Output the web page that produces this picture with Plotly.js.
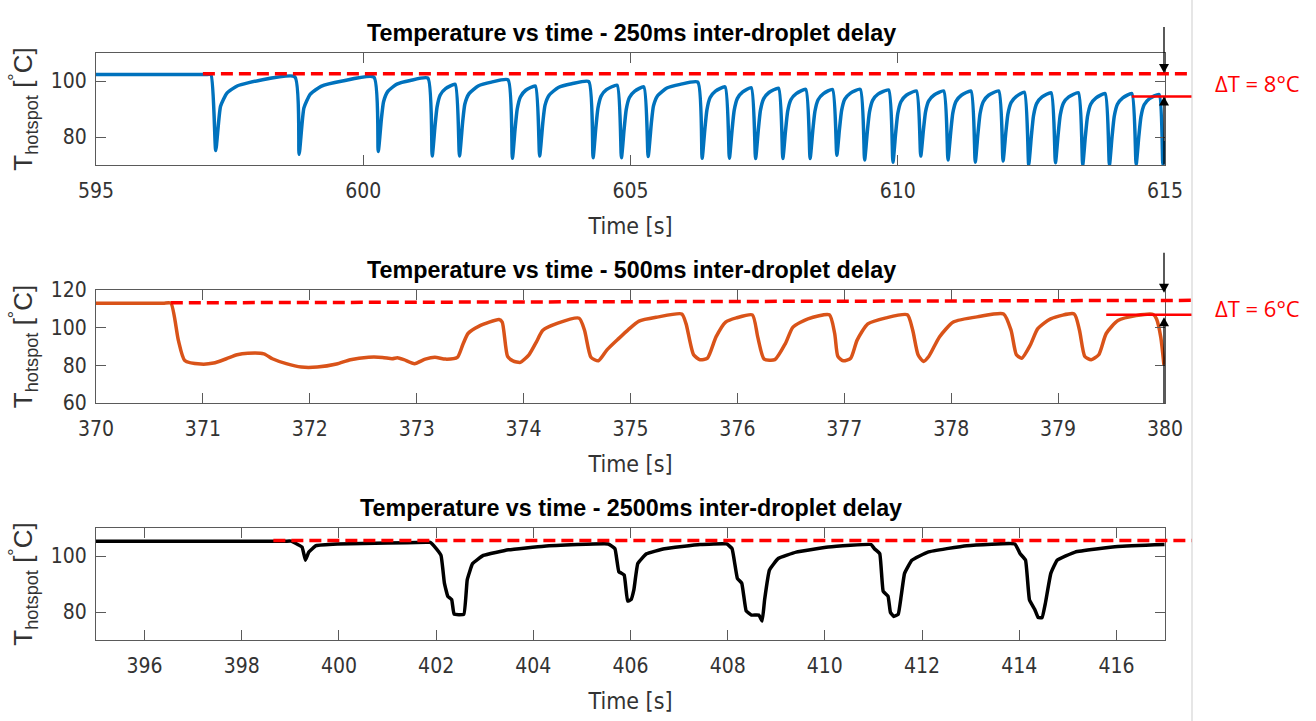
<!DOCTYPE html>
<html>
<head>
<meta charset="utf-8">
<script src="https://cdn.plot.ly/plotly-3.0.1.min.js"></script>
<style>html,body{margin:0;padding:0;background:#fff;}#chart{width:1316px;height:721px;}</style>
</head>
<body>
<div id="chart"></div>
<script>
// ---------- data ----------
const titles = ["Temperature vs time - 250ms inter-droplet delay",
                "Temperature vs time - 500ms inter-droplet delay",
                "Temperature vs time - 2500ms inter-droplet delay"];
const xLabel = "Time [s]";
const yLabel = "T<sub>hotspot</sub> [<sup>°</sup>C]";

const t250 = [595.00,596.50,597.05,597.15,597.24,597.33,597.45,597.65,598.05,598.72,598.80,598.89,599.01,599.21,599.61,600.20,
600.28,600.34,600.38,600.46,600.63,600.88,601.21,601.29,601.34,601.38,601.44,601.54,601.72,
601.80,601.86,601.90,601.98,602.15,602.40,602.71,602.79,602.84,602.88,602.94,603.04,603.22,
603.30,603.36,603.40,603.48,603.65,603.90,604.22,604.30,604.35,604.39,604.45,604.55,604.75,
604.83,604.88,604.92,604.98,605.08,605.25,605.33,605.39,605.43,605.51,605.68,605.93,606.26,
606.34,606.39,606.43,606.49,606.59,606.77,606.85,606.90,606.94,607.00,607.10,607.26,
607.34,607.39,607.43,607.49,607.59,607.77,607.85,607.90,607.94,608.00,608.10,608.28,
608.36,608.41,608.45,608.51,608.61,608.78,608.86,608.91,608.95,609.01,609.11,609.30,
609.38,609.43,609.47,609.53,609.63,609.83,609.91,609.96,610.00,610.06,610.16,610.35,
610.43,610.48,610.52,610.58,610.68,610.86,610.94,610.99,611.03,611.09,611.19,611.37,
611.45,611.50,611.54,611.60,611.70,611.89,611.97,612.02,612.06,612.12,612.22,612.37,
612.45,612.50,612.54,612.60,612.70,612.87,612.95,613.00,613.04,613.10,613.20,613.38,
613.46,613.51,613.55,613.61,613.71,613.88,613.96,614.01,614.05,614.11,614.21,614.38,
614.46,614.51,614.55,614.61,614.71,614.89,614.96,615.00];
const T250 = [102.3,102.3,102.3,102.3,75.2,91.0,95.7,98.3,100.2,101.5,73.8,90.4,95.3,98.1,100.0,101.4,
74.8,86.6,92.6,96.3,98.9,100.2,101.0,73.2,83.4,90.6,95.0,97.3,98.8,
73.2,85.4,91.7,95.5,98.2,99.6,100.4,72.4,82.7,89.9,94.3,96.7,98.2,
73.2,85.2,91.3,95.0,97.7,99.0,99.8,72.6,83.0,90.2,94.6,96.9,98.5,
72.6,82.7,89.8,94.1,96.4,97.9,73.0,85.0,91.1,94.8,97.5,98.8,99.6,
72.4,82.6,89.7,94.1,96.4,97.9,72.4,82.5,89.5,93.8,96.1,97.6,
72.3,82.3,89.4,93.6,95.9,97.4,72.3,82.2,89.1,93.3,95.5,97.0,
72.3,82.2,89.1,93.3,95.5,97.0,73.5,82.9,89.5,93.5,95.6,97.0,
71.8,81.8,88.8,93.1,95.3,96.8,71.0,81.2,88.3,92.6,94.9,96.4,
73.2,82.5,89.0,92.9,95.0,96.4,71.8,81.6,88.5,92.7,94.9,96.4,
71.0,81.2,88.3,92.6,94.9,96.4,71.4,81.2,88.1,92.3,94.5,96.0,
70.2,80.4,87.6,92.0,94.3,95.8,70.8,80.8,87.8,92.1,94.3,95.8,
70.0,80.2,87.3,91.7,94.0,95.5,70.0,80.2,87.3,91.7,94.0,95.5,
70.2,80.2,87.2,91.5,93.7,95.2,70.2,78.6];

const t500 = [370.00,370.40,370.63,370.70,370.77,370.83,370.98,371.10,371.22,371.32,371.42,371.57,371.65,371.78,371.92,372.07,
372.25,372.38,372.55,372.68,372.77,372.82,372.88,372.98,373.08,373.17,373.27,373.38,373.43,373.48,373.58,
373.77,373.80,373.85,373.90,373.97,374.05,374.12,374.18,374.32,374.52,374.57,374.63,374.70,374.78,374.88,
374.98,375.08,375.25,375.48,375.52,375.59,375.65,375.72,375.80,375.89,375.99,376.14,376.19,376.25,376.35,
376.45,376.52,376.66,376.86,376.91,376.94,376.99,377.06,377.12,377.22,377.39,377.59,377.64,377.69,377.74,
377.79,377.89,378.02,378.26,378.49,378.56,378.61,378.66,378.74,378.81,378.93,379.15,379.20,379.25,379.31,
379.38,379.45,379.56,379.73,379.89,379.92,379.96,379.99];
const T500 = [113.0,113.0,113.0,113.0,93.4,82.6,80.7,81.2,83.5,85.6,86.4,86.1,83.5,80.9,79.1,79.1,
80.7,83.0,84.3,84.2,83.5,84.0,83.0,80.9,83.3,84.3,83.3,84.2,90.8,96.9,100.7,
104.3,103.0,84.7,82.4,81.6,85.6,92.5,98.6,102.4,105.0,98.6,84.3,82.4,88.2,93.7,
99.0,103.5,105.6,107.3,102.0,85.6,83.0,83.8,95.1,103.0,105.2,106.8,95.1,83.3,83.0,
91.7,100.3,104.7,106.8,96.9,84.7,82.4,83.8,93.4,102.0,105.2,106.8,98.6,85.6,82.1,
84.7,95.1,103.0,105.9,107.3,98.6,85.6,83.8,90.8,99.5,104.7,107.3,98.6,84.7,83.0,
85.6,96.9,103.8,106.4,107.0,104.7,95.1,80.3];

const t2500 = [395.00,397.00,398.90,399.02,399.09,399.24,399.31,399.38,399.53,399.97,401.00,401.80,401.88,401.95,402.10,402.17,402.24,402.32,
402.37,402.57,402.64,402.75,402.97,403.49,404.22,405.54,405.68,405.76,405.87,405.94,406.01,406.07,406.15,
406.33,406.70,407.43,407.98,408.09,408.20,408.29,408.38,408.49,408.64,408.71,408.76,408.86,409.04,409.41,
410.07,410.95,411.02,411.13,411.20,411.30,411.35,411.42,411.51,411.57,411.64,411.79,412.12,412.92,413.91,
414.02,414.13,414.21,414.32,414.39,414.47,414.54,414.65,414.78,415.15,416.03,416.99];
const T2500 = [105.3,105.3,105.3,105.3,104.7,103.2,98.5,101.4,103.7,104.3,104.6,104.9,104.9,103.7,100.2,90.3,85.6,84.4,
79.2,79.2,91.5,97.3,100.2,102.2,103.5,104.3,102.6,94.4,93.2,83.9,84.4,88.0,97.3,
100.8,102.6,104.1,104.3,102.6,92.0,90.3,80.4,78.9,78.9,76.8,84.4,95.0,99.1,101.4,
103.2,104.1,102.6,100.8,87.4,85.6,79.8,78.4,79.2,85.6,93.8,98.5,101.4,103.7,104.3,
100.8,98.5,84.4,80.9,78.0,78.0,83.3,93.8,98.5,101.4,103.4,104.1];

// reference (dashed) levels: start time, level at start, level at right end
const refStart = [597.0, 370.7, 398.65];
const refLevelA = [102.6, 113.2, 105.5];
const refLevelB = [102.6, 114.5, 105.5];
// ΔT marker (solid red) levels and start times, labels, arrow tips
const dTStart = [614.38, 379.45];
const dTLevel = [94.5, 106.8];
const dTText = ["ΔT = 8°C", "ΔT = 6°C"];
const arrowDownTip = [102.9, 118.6];
const arrowUpTip = [94.5, 105.5];

const xRanges = [[595, 615], [370, 380], [395, 417]];
const yRanges = [[70, 110], [60, 120], [70, 110]];
const xTicks = [[595, 600, 605, 610, 615], [370,371,372,373,374,375,376,377,378,379,380], [396,398,400,402,404,406,408,410,412,414,416]];
const yTicks = [[80, 100], [60, 80, 100, 120], [80, 100]];
const colors = ["#0072BD", "#D95319", "#000000"];

// ---------- layout helpers ----------
const W = 1316, H = 721;
const M = {l: 96, r: 151, t: 53, b: 81};
const PW = W - M.l - M.r, PH = H - M.t - M.b;
const px = x => (x - M.l) / PW;          // page pixel -> paper x
const py = y => (H - M.b - y) / PH;      // page pixel -> paper y
const tp = (t, i) => (t - xRanges[i][0]) / (xRanges[i][1] - xRanges[i][0]);

const boxes = [[53, 165], [290, 403], [528, 640]];
const vy = (v, i) => boxes[i][1] - (v - yRanges[i][0]) / (yRanges[i][1] - yRanges[i][0]) * (boxes[i][1] - boxes[i][0]);

const narrow = "Liberation Sans Narrow, Arial Narrow, DejaVu Sans Condensed, sans-serif";
const sans = "Liberation Sans, Arial, Helvetica, sans-serif";
const smooth = [0.5, 0.6, 0.3];

const xs = [t250, t500, t2500], ys = [T250, T500, T2500];
const traces = xs.map((x, i) => ({
  x: x, y: ys[i], type: 'scatter', mode: 'lines',
  xaxis: i === 0 ? 'x' : 'x' + (i + 1), yaxis: i === 0 ? 'y' : 'y' + (i + 1),
  line: {color: colors[i], width: 3.5, shape: 'spline', smoothing: smooth[i]}, hoverinfo: 'skip'
}));

const layout = {
  width: W, height: H, margin: M, showlegend: false,
  paper_bgcolor: '#fff', plot_bgcolor: '#fff',
  shapes: [], annotations: []
};
const sepX = px(1192);
for (let i = 0; i < 3; i++) {
  const s = i === 0 ? '' : String(i + 1);
  const axCommon = {showline: true, mirror: 'allticks', linecolor: '#5a5a5a', linewidth: 1,
    ticks: 'inside', ticklen: 10, tickcolor: '#5a5a5a', showgrid: false, zeroline: false,
    tickfont: {family: narrow, size: 21, color: '#333'}, fixedrange: true};
  layout['xaxis' + s] = Object.assign({}, axCommon, {domain: [0, 1], anchor: 'y' + s,
    range: xRanges[i], tickvals: xTicks[i], ticklabelstandoff: 7,
    title: {text: xLabel, font: {family: narrow, size: 23, color: '#333'}, standoff: 15}});
  layout['yaxis' + s] = Object.assign({}, axCommon, {domain: [py(boxes[i][1]), py(boxes[i][0])],
    anchor: 'x' + s, range: yRanges[i], tickvals: yTicks[i], ticklabelstandoff: 4,
    title: {text: yLabel, font: {family: sans, size: 26, color: '#333'}, standoff: 10}});
  // dashed reference line
  layout.shapes.push({type: 'line', xref: 'paper', yref: 'y' + s,
    x0: tp(refStart[i], i), x1: sepX, y0: refLevelA[i], y1: refLevelB[i],
    line: {color: '#FF0000', width: 3.5, dash: '12px,6px'}});
  // subplot title
  layout.annotations.push({xref: 'paper', yref: 'paper', x: px(631), y: py(boxes[i][0] - 20),
    text: '<b>' + titles[i] + '</b>', showarrow: false, xanchor: 'center', yanchor: 'middle',
    font: {family: sans, size: 23.3, color: '#000'}});
}
// ΔT markers with double arrows
const ax = px(1164), hw = 5 / PW, hl = 9;
for (let i = 0; i < 2; i++) {
  const s = i === 0 ? '' : '2';
  layout.shapes.push({type: 'line', xref: 'paper', yref: 'y' + s,
    x0: tp(dTStart[i], i), x1: sepX, y0: dTLevel[i], y1: dTLevel[i],
    line: {color: '#FF0000', width: 2.5}});
  const dTip = vy(arrowDownTip[i], i), uTip = vy(arrowUpTip[i], i);
  const dLen = i === 0 ? 46 : 40, uLen = i === 0 ? 68 : 86;
  layout.shapes.push({type: 'line', xref: 'paper', yref: 'paper', x0: ax, x1: ax,
    y0: py(dTip - dLen), y1: py(dTip - hl + 1), line: {color: '#000', width: 1.3}});
  layout.shapes.push({type: 'path', xref: 'paper', yref: 'paper', fillcolor: '#000', line: {width: 0},
    path: `M ${ax - hw},${py(dTip - hl)} L ${ax + hw},${py(dTip - hl)} L ${ax},${py(dTip)} Z`});
  layout.shapes.push({type: 'line', xref: 'paper', yref: 'paper', x0: ax, x1: ax,
    y0: py(uTip + hl - 1), y1: py(uTip + uLen), line: {color: '#000', width: 1.3}});
  layout.shapes.push({type: 'path', xref: 'paper', yref: 'paper', fillcolor: '#000', line: {width: 0},
    path: `M ${ax - hw},${py(uTip + hl)} L ${ax + hw},${py(uTip + hl)} L ${ax},${py(uTip)} Z`});
  layout.annotations.push({xref: 'paper', yref: 'paper', x: px(1257), y: py(i === 0 ? 83 : 308),
    text: dTText[i], showarrow: false, xanchor: 'center', yanchor: 'middle',
    font: {family: 'Open Sans, sans-serif', size: 22, color: '#FF0000'}});
}
// slide separator
layout.shapes.push({type: 'line', xref: 'paper', yref: 'paper', x0: sepX, x1: sepX,
  y0: py(H), y1: py(0), line: {color: '#d6d6d6', width: 1.2}});

Plotly.newPlot('chart', traces, layout, {staticPlot: true, displayModeBar: false});
</script>
</body>
</html>
